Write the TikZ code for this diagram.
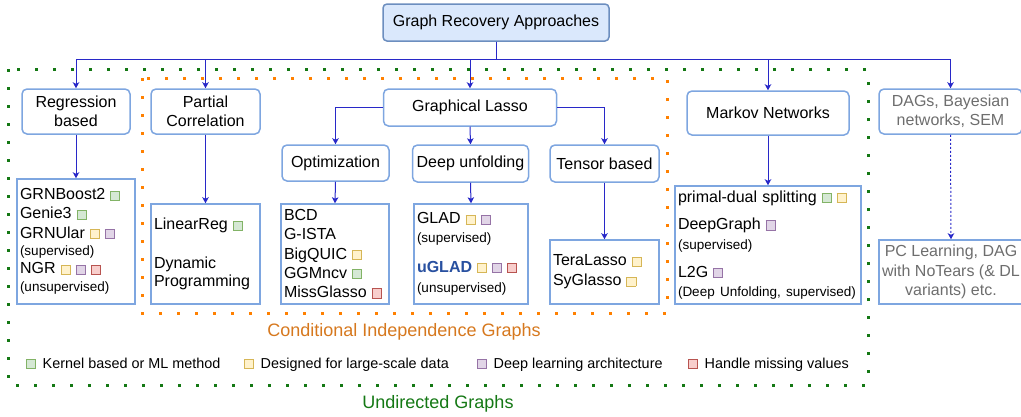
\documentclass[tikz,border=0pt]{standalone}
\usepackage{fontspec}
\setmainfont{Liberation Sans}
\usetikzlibrary{arrows.meta}

\definecolor{boxblue}{RGB}{126,166,224}
\definecolor{topfill}{RGB}{218,232,252}
\definecolor{topline}{RGB}{108,142,191}
\definecolor{linkblue}{RGB}{40,40,200}
\definecolor{undirgreen}{RGB}{20,120,20}
\definecolor{cigorange}{RGB}{255,128,0}
\definecolor{cigtext}{RGB}{214,120,30}
\definecolor{dagtext}{RGB}{110,110,110}
\definecolor{ugladblue}{RGB}{40,80,160}
% tag colours
\definecolor{kerfill}{RGB}{213,232,212}\definecolor{kerline}{RGB}{130,179,102}
\definecolor{bigfill}{RGB}{255,242,204}\definecolor{bigline}{RGB}{214,182,86}
\definecolor{dlfill}{RGB}{225,213,231}\definecolor{dlline}{RGB}{150,115,166}
\definecolor{misfill}{RGB}{248,206,204}\definecolor{misline}{RGB}{184,84,80}

\newcommand{\tagsq}[2]{{\fboxsep=0pt\fboxrule=0.9pt\fcolorbox{#1}{#2}{\rule{0pt}{8.2pt}\hspace{8.2pt}}}}
\newcommand{\kerneltag}{\hspace{5pt}\tagsq{kerline}{kerfill}}
\newcommand{\bigtag}{\hspace{5pt}\tagsq{bigline}{bigfill}}
\newcommand{\dltag}{\hspace{5pt}\tagsq{dlline}{dlfill}}
\newcommand{\misstag}{\hspace{5pt}\tagsq{misline}{misfill}}
\newcommand{\bigsz}{\fontsize{16}{19.2}\selectfont}
\newcommand{\subsz}{\fontsize{13.5}{16}\selectfont}
\newcommand{\legsz}{\fontsize{14.4}{17}\selectfont}

\begin{document}
\begin{tikzpicture}[x=1pt,y=-1pt,
  catbox/.style={draw=boxblue,line width=1.5pt,rounded corners=5pt,fill=white,align=center,inner sep=0pt,font=\bigsz},
  listbox/.style={draw=boxblue,line width=1.5pt,fill=white,align=left,inner xsep=3pt,inner ysep=0pt,font=\bigsz},
  link/.style={draw=linkblue,line width=1pt,-{Stealth[length=6pt,width=6.5pt,inset=1.5pt]}},
  ugdots/.style={draw=undirgreen,line width=3pt,dash pattern=on 3pt off 15pt},
  cigdots/.style={draw=cigorange,line width=3pt,dash pattern=on 3pt off 15pt},
  legend/.style={anchor=base west,inner sep=0pt,font=\legsz}]
\useasboundingbox (0,0) rectangle (1021,416);

% group frames
\draw[ugdots] (8,69) rectangle (868,385);
\draw[cigdots] (142,78) rectangle (667,313);
\node(ugname) [anchor=base,inner sep=0pt,font=\fontsize{18}{20}\selectfont,text=undirgreen] at (438,408.5) {Undirected Graphs};
\node(cigname) [anchor=base,inner sep=0pt,font=\fontsize{18}{20}\selectfont,text=cigtext] at (404,336.5) {Conditional Independence Graphs};

% top level
\node(top) [catbox,draw=topline,fill=topfill,rounded corners=4pt,minimum width=226pt,minimum height=37pt] at (496,22.5) {Graph Recovery Approaches};
\node(reg) [catbox,minimum width=108pt,minimum height=45pt] at (76,111.5) {Regression\\based};
\node(part) [catbox,minimum width=109pt,minimum height=45pt] at (205.5,111.5) {Partial\\Correlation};
\node(glasso) [catbox,minimum width=173pt,minimum height=37pt] at (470,107.5) {Graphical Lasso};
\node(markov) [catbox,minimum width=162pt,minimum height=44pt] at (768,113) {Markov Networks};
\node(dag) [catbox,text=dagtext,minimum width=143pt,minimum height=45pt] at (950.5,111.5) {DAGs, Bayesian\\networks, SEM};

% graphical lasso families
\node(opt) [catbox,minimum width=107pt,minimum height=36pt] at (335.5,163) {Optimization};
\node(deep) [catbox,minimum width=116pt,minimum height=37pt] at (470.5,163.5) {Deep unfolding};
\node(tensor) [catbox,minimum width=109pt,minimum height=37pt] at (604.5,163.5) {Tensor based};

% method lists
\node(reglist) [listbox,text width=112pt,minimum height=125pt] at (76,241.5) {GRNBoost2\kerneltag\\
Genie3\kerneltag\\
GRNUlar\bigtag\dltag\\[-1.5pt]
{\subsz (supervised)}\\[-1.2pt]
NGR\bigtag\dltag\misstag\\[-1.5pt]
{\subsz (unsupervised)}};
\node(partlist) [listbox,text width=103pt,minimum height=100pt] at (205.5,254) {LinearReg\kerneltag\\[19pt]
Dynamic\\[-0.8pt]
Programming};
\node(optlist) [listbox,text width=102pt,minimum height=100pt] at (335,254) {BCD\\
G-ISTA\\
BigQUIC\bigtag\\
GGMncv\kerneltag\\
MissGlasso\misstag};
\node(deeplist) [listbox,text width=108pt,minimum height=100pt] at (471,254) {GLAD\bigtag\dltag\\[-1pt]
{\subsz (supervised)}\\[11pt]
{\color{ugladblue}\bfseries uGLAD}\bigtag\dltag\misstag\\[0.8pt]
{\subsz (unsupervised)}};
\node(tenslist) [listbox,text width=103pt,minimum height=64pt] at (604.5,272) {TeraLasso\bigtag\\[0.8pt]
SyGlasso\bigtag};
\node(markovlist) [listbox,text width=180pt,minimum height=118pt] at (768,245) {primal-dual splitting\kerneltag\bigtag\\[8pt]
DeepGraph\dltag\\[0.8pt]
{\subsz (supervised)}\\[8.5pt]
L2G\dltag\\[0pt]
{\subsz (Deep Unfolding, supervised)}};
\node(daglist) [listbox,align=center,inner xsep=0pt,text=dagtext,minimum width=144pt,minimum height=64pt] at (951,272) {PC Learning, DAG\\
with NoTears (\& DL\\
variants) etc.};

% connectors
\foreach \n in {reg,part,glasso,markov,dag}
  \draw[link] (top.south) -- ++(0,18) -| (\n.north);
\draw[link] (glasso.west) -| (opt.north);
\draw[link] (glasso.south) -- (deep.north);
\draw[link] (glasso.east) -| (tensor.north);
\draw[link] (reg.south) -- (reglist.north);
\draw[link] (part.south) -- (partlist.north);
\draw[link] (opt.south) -- (optlist.north);
\draw[link] (deep.south) -- (deeplist.north);
\draw[link] (tensor.south) -- (tenslist.north);
\draw[link] (markov.south) -- (markovlist.north);
\draw[link,dash pattern=on 2pt off 2pt] (dag.south) -- (daglist.north);

% legend
\node(legker) [legend] at (26,368.3) {\tagsq{kerline}{kerfill}\hspace{6.5pt}Kernel based or ML method};
\node(legbig) [legend] at (244,368.3) {\tagsq{bigline}{bigfill}\hspace{6.5pt}Designed for large-scale data};
\node(legdl) [legend] at (477,368.3) {\tagsq{dlline}{dlfill}\hspace{6.5pt}Deep learning architecture};
\node(legmis) [legend] at (688,368.3) {\tagsq{misline}{misfill}\hspace{6.5pt}Handle missing values};
\end{tikzpicture}
\end{document}
